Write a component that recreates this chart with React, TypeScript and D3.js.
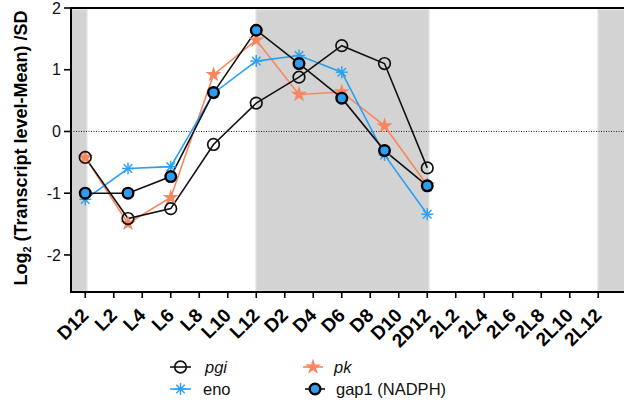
import React from "react";
import * as d3 from "d3";

// Sampling times in hours after D12 (every 3 h over one 24 h cycle)
const hours = [0, 3, 6, 9, 12, 15, 18, 21, 24];

const pgiValues = [-0.42, -1.41, -1.25, -0.21, 0.46, 0.88, 1.39, 1.1, -0.59];
const pkValues = [-0.42, -1.49, -1.07, 0.92, 1.48, 0.6, 0.64, 0.09, -0.87];
const enoValues = [-1.1, -0.6, -0.57, 0.62, 1.14, 1.23, 0.96, -0.38, -1.34];
const gap1Values = [-1.0, -1.0, -0.73, 0.63, 1.64, 1.1, 0.54, -0.31, -0.88];

const xTickHours = d3.range(0, 37, 2);
const xTickLabels = [
  "D12", "L2", "L4", "L6", "L8", "L10", "L12", "D2", "D4", "D6",
  "D8", "D10", "2D12", "2L2", "2L4", "2L6", "2L8", "2L10", "2L12",
];
const yTicks = [2, 1, 0, -1, -2];

// Dark periods (hours)
const darkPeriods: [number, number][] = [
  [-1, 0],
  [12, 24],
  [36, 40],
];

const BLUE = "#2C9EF2";
const ORANGE = "#F8865E";
const BAND = "#D3D3D3";

const W = 624;
const H = 402;
const left = 71;
const top = 8;
const bottom = 292;

const x = d3.scaleLinear().domain([-1, 38]).range([left, left + 39 * 14.25]);
const y = d3.scaleLinear().domain([-2.6, 2]).range([bottom, top]);

const line = d3
  .line<[number, number]>()
  .x((d) => x(d[0]))
  .y((d) => y(d[1]));

const pts = (vals: number[]) => hours.map((h, i) => [h, vals[i]] as [number, number]);

const starPath = d3.symbol(d3.symbolStar, 80)()!;

function Asterisk({ cx, cy, r, color }: { cx: number; cy: number; r: number; color: string }) {
  const angles = [0, 45, 90, 135];
  return (
    <g>
      {angles.map((a) => {
        const rad = (a * Math.PI) / 180;
        const dx = Math.cos(rad) * r;
        const dy = Math.sin(rad) * r;
        return (
          <line
            key={a}
            x1={cx - dx}
            y1={cy - dy}
            x2={cx + dx}
            y2={cy + dy}
            stroke={color}
            strokeWidth={1.4}
          />
        );
      })}
    </g>
  );
}

export default function App() {
  const font = "'Liberation Sans', Arial, sans-serif";
  return (
    <svg
      width={W}
      height={H}
      style={{ position: "absolute", left: 0, top: 0, background: "#fff" }}
      fontFamily={font}
    >
      <defs>
        <clipPath id="plotClip">
          <rect x={left} y={top} width={W - left} height={bottom - top} />
        </clipPath>
      </defs>

      {/* dark-period shading */}
      <g clipPath="url(#plotClip)">
        {darkPeriods.map(([a, b], i) => (
          <rect
            key={i}
            x={x(a)}
            y={top + 2}
            width={x(b) - x(a) + 1.5}
            height={bottom - top - 3}
            fill={BAND}
            stroke="#DDDDDD"
            strokeWidth={1.5}
          />
        ))}
      </g>

      {/* zero line */}
      <line
        x1={left}
        x2={W}
        y1={y(0)}
        y2={y(0)}
        stroke="#222"
        strokeWidth={1}
        strokeDasharray="1 1.5"
      />

      {/* series lines */}
      <path d={line(pts(pkValues))!} fill="none" stroke={ORANGE} strokeWidth={1.6} />
      <path d={line(pts(enoValues))!} fill="none" stroke={BLUE} strokeWidth={1.6} />
      <path d={line(pts(pgiValues))!} fill="none" stroke="#111" strokeWidth={1.6} />
      <path d={line(pts(gap1Values))!} fill="none" stroke="#111" strokeWidth={1.6} />

      {/* markers */}
      {pts(pkValues).map((d, i) => (
        <path key={"pk" + i} d={starPath} transform={`translate(${x(d[0])},${y(d[1])})`} fill={ORANGE} />
      ))}
      {pts(enoValues).map((d, i) => (
        <Asterisk key={"eno" + i} cx={x(d[0])} cy={y(d[1])} r={6} color={BLUE} />
      ))}
      {pts(pgiValues).map((d, i) => (
        <circle key={"pgi" + i} cx={x(d[0])} cy={y(d[1])} r={5.8} fill="none" stroke="#111" strokeWidth={1.7} />
      ))}
      {pts(gap1Values).map((d, i) => (
        <circle key={"gap" + i} cx={x(d[0])} cy={y(d[1])} r={5.3} fill={BLUE} stroke="#000" strokeWidth={2.4} />
      ))}

      {/* frame / axes */}
      <line x1={left} x2={W} y1={top} y2={top} stroke="#000" strokeWidth={2} />
      <line x1={left} x2={left} y1={top - 1} y2={bottom + 1} stroke="#000" strokeWidth={2} />
      <line x1={left - 1} x2={W} y1={bottom} y2={bottom} stroke="#000" strokeWidth={2} />

      {/* y axis ticks */}
      {yTicks.map((t) => (
        <g key={t}>
          <line x1={left - 7} x2={left} y1={y(t)} y2={y(t)} stroke="#000" strokeWidth={1.6} />
          <text x={left - 10} y={y(t)} dy="0.36em" textAnchor="end" fontSize={16} fill="#111">
            {t}
          </text>
        </g>
      ))}

      {/* x axis ticks */}
      {xTickHours.map((h, i) => (
        <g key={h}>
          <line x1={x(h)} x2={x(h)} y1={bottom} y2={bottom + 6} stroke="#000" strokeWidth={1.6} />
          <text
            transform={`translate(${x(h) + 4.5},${bottom + 24.5}) rotate(-45)`}
            textAnchor="end"
            fontSize={19}
            fontWeight="bold"
            fill="#000"
          >
            {xTickLabels[i]}
          </text>
        </g>
      ))}

      {/* y axis title */}
      <text
        transform={`translate(27,${148}) rotate(-90)`}
        textAnchor="middle"
        fontSize={18}
        fontWeight="bold"
        fill="#000"
      >
        Log<tspan fontSize={11} dy={4}>2</tspan>
        <tspan dy={-4}> (Transcript level-Mean) /SD</tspan>
      </text>

      {/* legend */}
      <g fontSize={16.5} fill="#111">
        <line x1={170} x2={191} y1={367} y2={367} stroke="#111" strokeWidth={1.6} />
        <circle cx={180.5} cy={367} r={5.8} fill="none" stroke="#111" strokeWidth={1.7} />
        <text x={205} y={367} dy="0.36em" fontStyle="italic">pgi</text>

        <line x1={303} x2={323} y1={367} y2={367} stroke={ORANGE} strokeWidth={1.6} />
        <path d={starPath} transform="translate(313,367)" fill={ORANGE} />
        <text x={334} y={367} dy="0.36em" fontStyle="italic">pk</text>

        <line x1={170} x2={191} y1={389} y2={389} stroke={BLUE} strokeWidth={1.6} />
        <Asterisk cx={180.5} cy={389} r={6} color={BLUE} />
        <text x={203} y={389} dy="0.36em">eno</text>

        <line x1={305} x2={325} y1={389} y2={389} stroke="#111" strokeWidth={1.6} />
        <circle cx={315} cy={389} r={5.3} fill={BLUE} stroke="#000" strokeWidth={2.4} />
        <text x={336} y={389} dy="0.36em">gap1 (NADPH)</text>
      </g>
    </svg>
  );
}
